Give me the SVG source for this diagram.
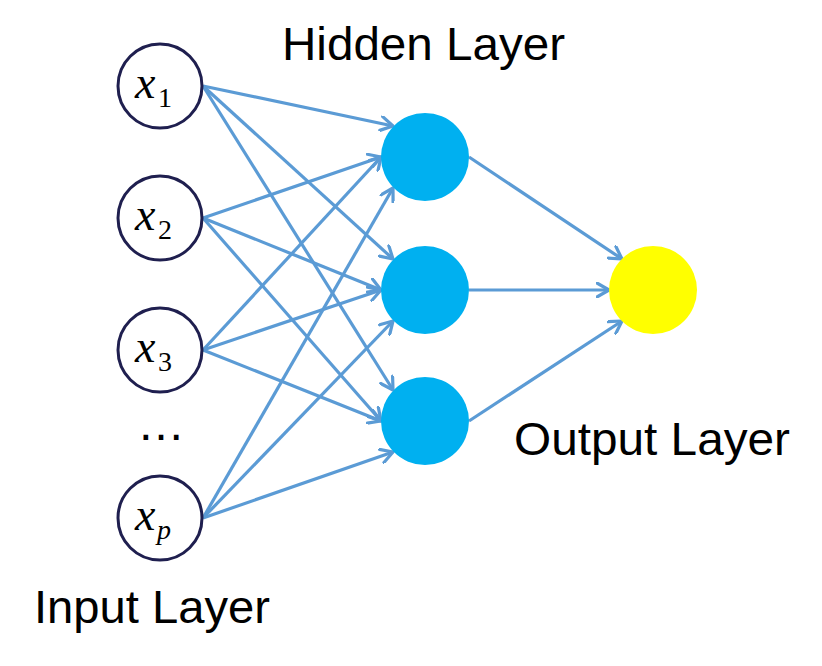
<svg xmlns="http://www.w3.org/2000/svg" width="822" height="666" viewBox="0 0 822 666">
<defs>
<marker id="arr" markerWidth="16" markerHeight="16" viewBox="-13 -8 15 16" refX="0" refY="0" orient="auto" markerUnits="userSpaceOnUse">
<path d="M-12,-7 L0,0 L-12,7" fill="none" stroke="#5B9BD5" stroke-width="3.2" stroke-linecap="round" stroke-linejoin="round"/>
</marker>
</defs>
<style>
.in{fill:#fff;stroke:#1F1F4F;stroke-width:3}
.hid{fill:#00B0F0}
.out{fill:#FFFF00}
.c line{stroke:#5B9BD5;stroke-width:3.2;marker-end:url(#arr)}
.lbl{font-family:"Liberation Sans",Arial,sans-serif;font-size:47px;fill:#000}
.m{font-family:"Liberation Serif","Times New Roman",serif;font-style:italic;font-size:46px;fill:#000}
.s{font-family:"Liberation Serif","Times New Roman",serif;font-size:28px;fill:#000}
</style>
<rect width="822" height="666" fill="#fff"/>
<g class="c" id="connectors">
<line x1="203" y1="86" x2="393" y2="126"/>
<line x1="203" y1="86" x2="393" y2="259"/>
<line x1="203" y1="86" x2="393" y2="390"/>
<line x1="203" y1="218" x2="381" y2="157"/>
<line x1="203" y1="218" x2="381" y2="290"/>
<line x1="203" y1="218" x2="381" y2="421"/>
<line x1="203" y1="350" x2="381" y2="157"/>
<line x1="203" y1="350" x2="381" y2="290"/>
<line x1="203" y1="350" x2="381" y2="421"/>
<line x1="203" y1="518" x2="393" y2="188"/>
<line x1="203" y1="518" x2="393" y2="321"/>
<line x1="203" y1="518" x2="393" y2="452"/>
<line x1="469" y1="157" x2="622" y2="259"/>
<line x1="469" y1="290" x2="609" y2="290"/>
<line x1="469" y1="421" x2="622" y2="321"/>
</g>
<g id="x1"><circle class="in" cx="160" cy="86" r="42"/><text class="m" x="135" y="98">x</text><text class="s" x="158" y="107">1</text></g>
<g id="x2"><circle class="in" cx="160" cy="218" r="42"/><text class="m" x="135" y="230">x</text><text class="s" x="158" y="239">2</text></g>
<g id="x3"><circle class="in" cx="160" cy="350" r="42"/><text class="m" x="135" y="362">x</text><text class="s" x="158" y="371">3</text></g>
<g id="dots"><text class="lbl" x="137" y="440" style="font-size:48px">…</text></g>
<g id="xp"><circle class="in" cx="160" cy="518" r="42"/><text class="m" x="135" y="530">x</text><text class="m" x="157" y="539" style="font-size:28px">p</text></g>
<g id="h1"><circle class="hid" cx="425" cy="157" r="44"/></g>
<g id="h2"><circle class="hid" cx="425" cy="290" r="44"/></g>
<g id="h3"><circle class="hid" cx="425" cy="421" r="44"/></g>
<g id="out"><circle class="out" cx="653" cy="290" r="44"/></g>
<g id="labels">
<text class="lbl" x="282" y="60" textLength="283" lengthAdjust="spacingAndGlyphs">Hidden Layer</text>
<text class="lbl" x="34" y="623" textLength="236" lengthAdjust="spacingAndGlyphs">Input Layer</text>
<text class="lbl" x="514" y="455" textLength="276" lengthAdjust="spacingAndGlyphs">Output Layer</text>
</g>
</svg>
